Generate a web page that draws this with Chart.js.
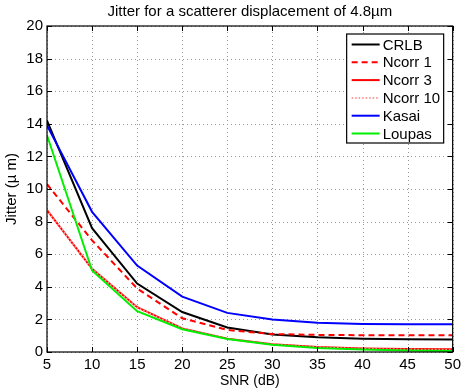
<!DOCTYPE html>
<html>
<head>
<meta charset="utf-8">
<script src="https://cdn.jsdelivr.net/npm/chart.js@4"></script>
<style>
  html, body { margin: 0; padding: 0; background: #fff; }
  #wrap { width: 465px; height: 392px; }
</style>
</head>
<body>
<div id="wrap"><canvas id="jitter-chart"></canvas></div>
<script>
// SNR values (dB) and jitter (um)
const snr = [5, 10, 15, 20, 25, 30, 35, 40, 45, 50];
const crlb = [14.2, 7.6, 4.2, 2.45, 1.5, 1.07, 0.9, 0.82, 0.78, 0.77];
const ncorr1 = [10.3, 6.85, 3.9, 2.07, 1.35, 1.1, 1.05, 1.03, 1.02, 1.02];
const ncorr3 = [8.7, 5.1, 2.75, 1.45, 0.82, 0.47, 0.3, 0.22, 0.18, 0.17];
const ncorr10 = [8.7, 5.1, 2.72, 1.44, 0.81, 0.46, 0.28, 0.19, 0.15, 0.13];
const kasai = [13.9, 8.6, 5.3, 3.4, 2.4, 1.99, 1.8, 1.72, 1.7, 1.7];
const loupas = [13.3, 5.0, 2.5, 1.4, 0.8, 0.45, 0.25, 0.15, 0.09, 0.06];
const yTicks = [0, 2, 4, 6, 8, 10, 12, 14, 16, 18, 20];
const titleText = "Jitter for a scatterer displacement of 4.8\u00b5m";

const fontName = "'Liberation Sans', Arial, sans-serif";
Chart.defaults.font.family = fontName;
Chart.defaults.color = "#000";

function pts(ys) {
    return snr.map((x, i) => ({ x: x, y: ys[i] }));
}

function makeSet(label, ys, color, dash, idx) {
    return {
        label: label,
        data: pts(ys),
        borderColor: color,
        borderWidth: 2,
        borderDash: dash,
        pointRadius: 0,
        fill: false,
        tension: 0,
        order: 10 - idx
    };
}

// dotted grid, drawn under the lines
const gridPlugin = {
    id: "dotGrid",
    beforeDatasetsDraw(chart) {
        const ctx = chart.ctx;
        const a = chart.chartArea;
        const xs = chart.scales.x;
        const ys = chart.scales.y;
        ctx.save();
        ctx.fillStyle = "#999";
        xs.ticks.forEach(t => {
            const px = Math.round(xs.getPixelForValue(t.value));
            for (let y = a.bottom - 4; y > a.top; y -= 4) ctx.fillRect(px, y, 1, 1);
        });
        ys.ticks.forEach(t => {
            const py = Math.round(ys.getPixelForValue(t.value));
            for (let x = a.left + 4; x < a.right; x += 4) ctx.fillRect(x, py, 1, 1);
        });
        ctx.restore();
    }
};

// box + inward ticks like matlab, and the title centred over the axes
const boxPlugin = {
    id: "box",
    afterDatasetsDraw(chart) {
        const ctx = chart.ctx;
        const a = chart.chartArea;
        const xs = chart.scales.x;
        const ys = chart.scales.y;
        ctx.save();
        ctx.strokeStyle = "#000";
        ctx.lineWidth = 1;
        ctx.setLineDash([]);
        ctx.beginPath();
        xs.ticks.forEach(t => {
            const px = Math.round(xs.getPixelForValue(t.value)) + 0.5;
            ctx.moveTo(px, a.bottom); ctx.lineTo(px, a.bottom - 5);
            ctx.moveTo(px, a.top); ctx.lineTo(px, a.top + 5);
        });
        ys.ticks.forEach(t => {
            const py = Math.round(ys.getPixelForValue(t.value)) + 0.5;
            ctx.moveTo(a.left, py); ctx.lineTo(a.left + 5, py);
            ctx.moveTo(a.right, py); ctx.lineTo(a.right - 5, py);
        });
        ctx.stroke();
        ctx.lineWidth = 1.2;
        ctx.strokeRect(a.left, a.top, a.right - a.left, a.bottom - a.top);

        ctx.fillStyle = "#000";
        ctx.font = "15px " + fontName;
        ctx.textAlign = "center";
        ctx.textBaseline = "middle";
        ctx.fillText(titleText, (a.left + a.right) / 2, 12);
        ctx.restore();
    }
};

// legend box in the upper right
const legendPlugin = {
    id: "boxLegend",
    afterDraw(chart) {
        const ctx = chart.ctx;
        const a = chart.chartArea;
        const left = a.right - 106, top = a.top + 8, w = 97, h = 109;
        ctx.save();
        ctx.fillStyle = "#fff";
        ctx.fillRect(left, top, w, h);
        ctx.strokeStyle = "#000";
        ctx.lineWidth = 1.2;
        ctx.strokeRect(left, top, w, h);
        ctx.font = "15px " + fontName;
        ctx.textBaseline = "middle";
        chart.data.datasets.forEach((ds, i) => {
            const cy = top + 10.5 + i * 17.8;
            ctx.strokeStyle = ds.borderColor;
            ctx.lineWidth = ds.borderWidth;
            ctx.setLineDash(ds.borderDash || []);
            ctx.beginPath();
            ctx.moveTo(left + 5, cy);
            ctx.lineTo(left + 33, cy);
            ctx.stroke();
            ctx.setLineDash([]);
            ctx.fillStyle = "#000";
            ctx.fillText(ds.label, left + 36, cy + 1);
        });
        ctx.restore();
    }
};

let chartId = document.getElementById("jitter-chart");

let JitterChart = new Chart(chartId, {
    type: "line",
    data: {
        datasets: [
            makeSet("CRLB", crlb, "#000000", [], 0),
            makeSet("Ncorr 1", ncorr1, "#ff0000", [6, 4], 1),
            makeSet("Ncorr 3", ncorr3, "#ff0000", [], 2),
            makeSet("Ncorr 10", ncorr10, "#ff9a9a", [1.5, 2], 3),
            makeSet("Kasai", kasai, "#0000ff", [], 4),
            makeSet("Loupas", loupas, "#00ee00", [], 5)
        ]
    },
    options: {
        responsive: true,
        maintainAspectRatio: false,
        animation: false,
        layout: { padding: { top: 26, right: 7, bottom: 0, left: 0 } },
        plugins: {
            legend: { display: false },
            tooltip: { enabled: false },
            title: { display: false }
        },
        scales: {
            x: {
                type: "linear",
                min: 5,
                max: 50,
                afterFit(s) { s.height = 40; },
                ticks: { stepSize: 5, font: { size: 15 }, padding: 4, maxRotation: 0 },
                grid: { display: false, drawTicks: false },
                border: { display: false },
                title: { display: true, text: "SNR (dB)", font: { size: 14 }, padding: { top: 0, bottom: 2 } }
            },
            y: {
                min: 0,
                max: 20,
                afterFit(s) { s.width = 47; },
                afterBuildTicks(s) { s.ticks = yTicks.map(v => ({ value: v })); },
                ticks: { font: { size: 15 }, padding: 4 },
                grid: { display: false, drawTicks: false },
                border: { display: false },
                title: { display: true, text: "Jitter (\u00b5 m)", font: { size: 15 }, padding: { top: 3, bottom: 0 } }
            }
        }
    },
    plugins: [gridPlugin, boxPlugin, legendPlugin]
});
</script>
</body>
</html>
